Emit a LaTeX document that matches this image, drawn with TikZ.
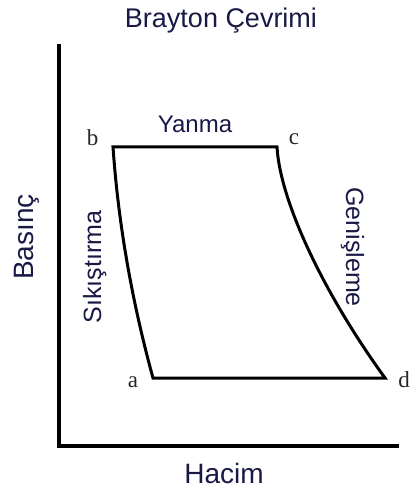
\documentclass[tikz,border=0pt]{standalone}
\usepackage{fontspec}
\setmainfont{Liberation Serif}
\newfontfamily\labelfont{Liberation Sans}
\definecolor{textnavy}{RGB}{25, 25, 70}
\usepackage{tikz}

\tikzset{
  axisline/.style={line width=4pt, line join=miter},
  cycleline/.style={line width=3pt, line join=miter},
  sanslabel/.style={font=\labelfont\fontsize{25}{30}\selectfont, text=textnavy, inner sep=0pt},
  cornerlabel/.style={font=\fontsize{23}{26}\selectfont, text=black!85, inner sep=0pt, anchor=base},
}

\begin{document}
\begin{tikzpicture}[x=1pt, y=-1pt]
  \useasboundingbox (0, 0) rectangle (409, 494);

  % Title
  \node[sanslabel, anchor=base, font=\labelfont\fontsize{27}{30}\selectfont] (title) at (221, 28) {Brayton Çevrimi};

  % Axes
  \coordinate (ytop) at (59, 44);
  \coordinate (origin) at (59, 446);
  \coordinate (xend) at (399, 446);
  \draw[axisline] (ytop) -- (origin) -- (xend);
  \node[sanslabel, anchor=base, font=\labelfont\fontsize{28}{30}\selectfont] (xlabel) at (224, 483) {Hacim};
  \node[sanslabel, rotate=90, anchor=base, font=\labelfont\fontsize{28}{30}\selectfont] (ylabel) at (33, 237) {Basınç};

  % Cycle corners
  \coordinate (a) at (153, 378);
  \coordinate (b) at (113, 147);
  \coordinate (c) at (277, 147);
  \coordinate (d) at (385, 378);
  \draw[cycleline] (a) .. controls (131.7, 300.3) and (118.3, 223.3) .. (b)
    -- (c) .. controls (280, 200) and (322, 291) .. (d) -- cycle;

  % Corner letters
  \node[cornerlabel] (la) at (133, 387) {a};
  \node[cornerlabel] (lb) at (92.5, 146) {b};
  \node[cornerlabel] (lc) at (294, 145) {c};
  \node[cornerlabel] (ld) at (404, 387) {d};

  % Process names
  \node[sanslabel, anchor=base, font=\labelfont\fontsize{24}{30}\selectfont] (yanma) at (195, 133) {Yanma};
  \node[sanslabel, rotate=90, anchor=base] (sikistirma) at (101, 267) {Sıkıştırma};
  \node[sanslabel, rotate=-90, anchor=base] (genisleme) at (346, 247) {Genişleme};
\end{tikzpicture}
\end{document}
